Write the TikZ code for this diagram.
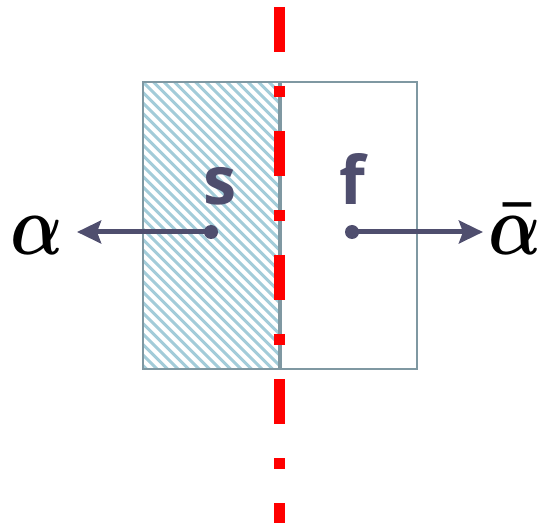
\documentclass[tikz,border=0pt]{standalone}
\usepackage{amsmath}
\usepackage{fontspec}
\usepackage{graphicx}
\setsansfont{Open Sans}
\usetikzlibrary{arrows.meta}
\definecolor{boxc}{HTML}{7F98A2}
\definecolor{hatchc}{HTML}{A3CCD9}
\definecolor{darkc}{HTML}{4F4E6E}
\definecolor{redc}{HTML}{FF0000}
\begin{document}
\begin{tikzpicture}[x=0.75pt,y=-0.75pt,
  boxline/.style={draw=boxc,line width=1.6pt},
  midline/.style={draw=boxc,line width=2.4pt},
  hatchline/.style={draw=hatchc,line width=2.3pt},
  axisline/.style={draw=redc,line width=8.25pt,line cap=butt,dash pattern=on 33.75pt off 25.5pt on 8.25pt off 25.5pt},
  arr/.style={draw=darkc,line width=3.75pt,-{Stealth[length=18pt,width=17pt,inset=3pt]}},
  dot/.style={circle,fill=darkc,inner sep=0pt,minimum size=10.5pt},
  lbl/.style={font=\sffamily\bfseries\fontsize{50}{50}\selectfont,text=darkc,anchor=base,inner sep=0pt},
  greek/.style={anchor=base,inner sep=0pt}]
\useasboundingbox (0,0) rectangle (545,523);
% hatching of left half
\begin{scope}
  \clip (143,82) rectangle (280,369);
  \foreach \k in {-30,...,14} {
    \draw[hatchline] ({143+10.5*\k},82) -- ({143+10.5*\k+300},382);
  }
\end{scope}
% box
\draw[boxline] (143,82) rectangle (417,369);
\draw[midline] (280,82) -- (280,369);
% red axis
\coordinate (rtop) at (279.5,7);
\coordinate (rbot) at (279.5,523);
\draw[axisline] (rtop) -- (rbot);
% dots and labels
\node[dot] (ds) at (211,232) {};
\node[dot] (df) at (352,232) {};
\node[lbl] (s) at (220,205) {s};
\node[lbl] (f) at (352,205) {f};
\node[greek] (al) at (37,255) {\scalebox{5.2}[6.4]{$\boldsymbol{\alpha}$}};
\node[greek] (ab) at (515,255) {\scalebox{5.2}[6.4]{$\boldsymbol{\bar{\alpha}}$}};
\coordinate (tl) at (77,232);
\coordinate (tr) at (483,232);
\draw[arr] (ds.center) -- (tl);
\draw[arr] (df.center) -- (tr);
\end{tikzpicture}
\end{document}
